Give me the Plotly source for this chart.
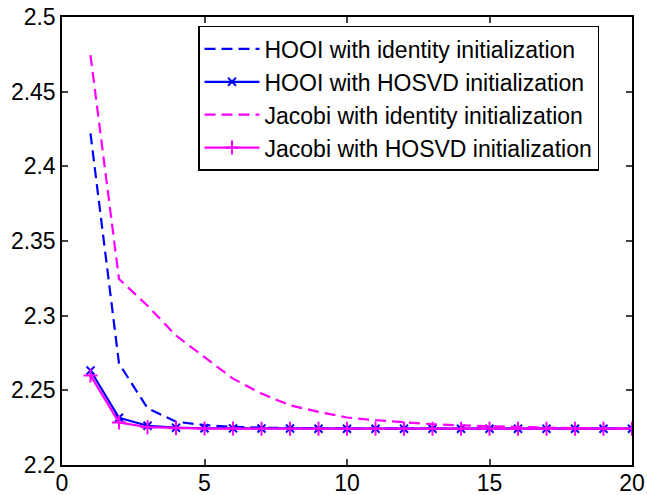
import plotly.graph_objects as go

iters = list(range(1, 21))
hooi_identity = [2.422, 2.268, 2.238, 2.229, 2.2267, 2.2255, 2.2250, 2.2247, 2.2245, 2.2244,
                 2.2244, 2.2243, 2.2243, 2.2243, 2.2243, 2.2243, 2.2243, 2.2243, 2.2243, 2.2243]
hooi_hosvd = [2.2633, 2.2316, 2.2263, 2.2250, 2.2246, 2.2245, 2.2244, 2.2244, 2.2243, 2.2243,
              2.2243, 2.2243, 2.2243, 2.2243, 2.2243, 2.2243, 2.2243, 2.2243, 2.2243, 2.2243]
jacobi_identity = [2.4745, 2.3245, 2.3067, 2.2867, 2.2722, 2.2578, 2.2478, 2.2400, 2.2356, 2.2318,
                   2.2300, 2.2285, 2.2273, 2.2265, 2.2259, 2.2255, 2.2250, 2.2247, 2.2245, 2.2243]
jacobi_hosvd = [2.2600, 2.2285, 2.2253, 2.2246, 2.2244, 2.2244, 2.2243, 2.2243, 2.2243, 2.2243,
                2.2243, 2.2243, 2.2243, 2.2243, 2.2243, 2.2243, 2.2243, 2.2243, 2.2243, 2.2243]

names = ["HOOI with identity initialization", "HOOI with HOSVD initialization",
         "Jacobi with identity initialization", "Jacobi with HOSVD initialization"]

xticks = [0, 5, 10, 15, 20]
yticks = [2.2, 2.25, 2.3, 2.35, 2.4, 2.45, 2.5]
yticklabels = ["2.2", "2.25", "2.3", "2.35", "2.4", "2.45", "2.5"]

blue = "#0000FF"
magenta = "#FF00FF"

fig = go.Figure()
fig.add_trace(go.Scatter(x=iters, y=hooi_identity, name=names[0], mode="lines",
                         line=dict(color=blue, width=2.2, dash="11px,6px")))
fig.add_trace(go.Scatter(x=iters, y=hooi_hosvd, name=names[1], mode="lines+markers",
                         line=dict(color=blue, width=2.2),
                         marker=dict(symbol="x-thin", size=8, line=dict(color=blue, width=2))))
fig.add_trace(go.Scatter(x=iters, y=jacobi_identity, name=names[2], mode="lines",
                         line=dict(color=magenta, width=2.2, dash="11px,6px")))
fig.add_trace(go.Scatter(x=iters, y=jacobi_hosvd, name=names[3], mode="lines+markers",
                         line=dict(color=magenta, width=2.2),
                         marker=dict(symbol="cross-thin", size=10, line=dict(color=magenta, width=2))))

font = dict(family="Liberation Sans, Arial, Helvetica, sans-serif", size=23, color="black")
fig.update_layout(
    width=647, height=495,
    margin=dict(l=62, r=15, t=17, b=30, autoexpand=False),
    paper_bgcolor="white", plot_bgcolor="white",
    font=font,
    showlegend=True,
    legend=dict(x=0.2386, y=0.98, xanchor="left", yanchor="top",
                bordercolor="black", borderwidth=1.5, bgcolor="white",
                font=dict(size=23), itemwidth=55, tracegroupgap=0),
    xaxis=dict(range=[0, 20], tickvals=xticks, ticks="inside", ticklen=6, tickwidth=1.5,
               showline=True, linecolor="black", linewidth=1.5, mirror="ticks",
               showgrid=False, zeroline=False, tickfont=font, automargin=False,
               ticklabelstandoff=-3),
    yaxis=dict(range=[2.2, 2.5], tickvals=yticks, ticktext=yticklabels, ticks="inside",
               ticklen=6, tickwidth=1.5, showline=True, linecolor="black", linewidth=1.5,
               mirror="ticks", showgrid=False, zeroline=False, tickfont=font, automargin=False),
)

fig.write_html("out.html", config={"displayModeBar": False},
               post_script="document.body.style.margin='0px';")
